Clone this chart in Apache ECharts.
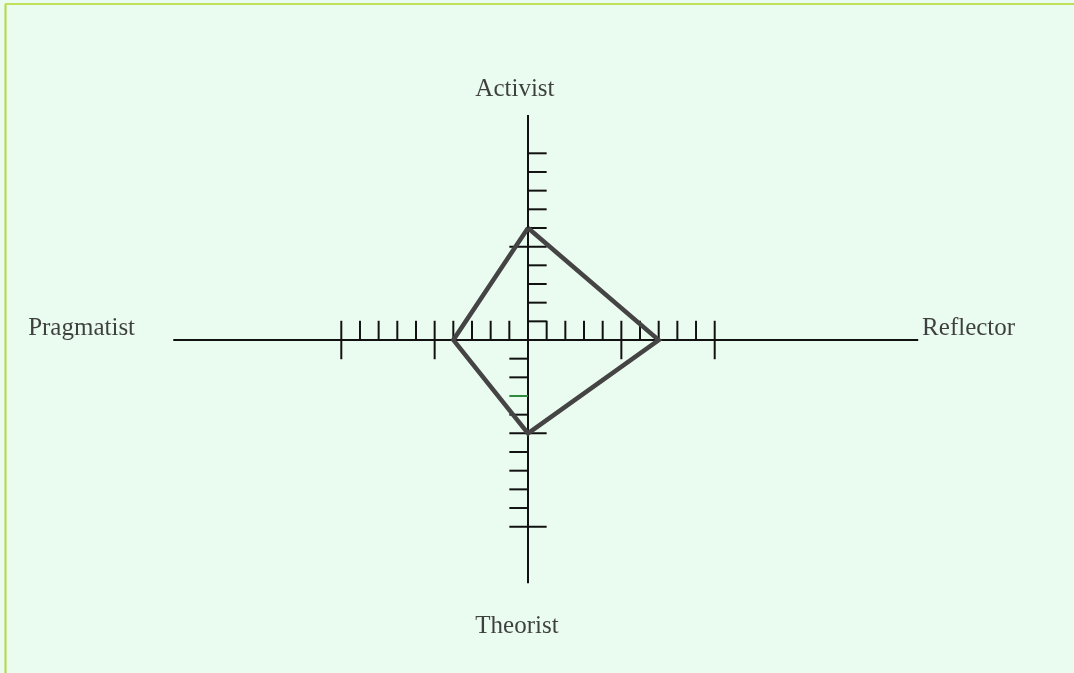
<!DOCTYPE html>
<html>
<head>
<meta charset="utf-8">
<script src="https://cdn.jsdelivr.net/npm/echarts@6/dist/echarts.min.js"></script>
<style>
  html, body { margin: 0; padding: 0; background: #eafbef; }
  #chart { width: 1074px; height: 673px; }
</style>
</head>
<body>
<div id="chart"></div>
<script>
// styles, four learning styles, one score each
const categories = ["Activist", "Reflector", "Theorist", "Pragmatist"];
const scores = [6, 7, 5, 4];

// tick marks on the cross
const hTicks = [-10, -9, -8, -7, -6, -5, -4, -3, -2, -1, 1, 2, 3, 4, 5, 6, 7, 8, 9, 10];
const hLongTicks = [-10, -5, 5, 10];
const vTicksUp = [1, 2, 3, 4, 5, 6, 7, 8, 9, 10];
const vLongUp = [5];
const vTicksDown = [-1, -2, -3, -4, -5, -6, -7, -8, -9, -10];
const vLongDown = [-5, -10];
const greenTicks = [-3]; // faint green mark on the scan

// axis ends (in score units)
const hAxisEnds = [-19, 20.9];
const vAxisEnds = [12.05, -13.03];

// layout
const CX = 528, CY = 340, UNIT = 18.67;
const W = 1074, H = 673;

const chart = echarts.init(document.getElementById("chart"));

// segments for the ticks: [x1, y1, x2, y2, isGreen]
let tickSegs = [];
for (let v of hTicks) {
  let long = hLongTicks.indexOf(v) >= 0;
  tickSegs.push([v, long ? -1.03 : 0, v, 1.03, 0]);
}
for (let v of vTicksUp) {
  let long = vLongUp.indexOf(v) >= 0;
  tickSegs.push([long ? -1 : 0, v, 1, v, 0]);
}
for (let v of vTicksDown) {
  let long = vLongDown.indexOf(v) >= 0;
  let green = greenTicks.indexOf(v) >= 0 ? 1 : 0;
  tickSegs.push([-1, v, long ? 1 : 0, v, green]);
}

// kite points: Activist up, Reflector right, Theorist down, Pragmatist left
const dirs = [[0, 1], [1, 0], [0, -1], [-1, 0]];
let kite = [];
for (let i = 0; i < categories.length; i++) {
  kite.push([dirs[i][0] * scores[i], dirs[i][1] * scores[i]]);
}
kite.push(kite[0]);

// label positions (centre of each word, in score units)
const labelPos = [[-0.7, 13.44], [23.6, 0.62], [-0.59, -15.35], [-23.91, 0.64]];
let labels = categories.map((c, i) => ({ name: c, value: labelPos[i] }));

let option = {
  backgroundColor: "#eafbef",
  animation: false,
  grid: { left: 0, right: 0, top: 0, bottom: 0 },
  xAxis: { type: "value", min: -CX / UNIT, max: (W - CX) / UNIT, show: false },
  yAxis: { type: "value", min: -(H - CY) / UNIT, max: CY / UNIT, show: false },
  graphic: [
    { type: "line", shape: { x1: 5.5, y1: 4, x2: 5.5, y2: H }, style: { stroke: "#b3da3c", lineWidth: 2 } },
    { type: "line", shape: { x1: 5, y1: 4, x2: W, y2: 4 }, style: { stroke: "#c0e05a", lineWidth: 2 } }
  ],
  series: [
    {
      type: "line",
      data: [[hAxisEnds[0], 0], [hAxisEnds[1], 0]],
      symbol: "none",
      lineStyle: { color: "#111", width: 2 },
      z: 1
    },
    {
      type: "line",
      data: [[0, vAxisEnds[0]], [0, vAxisEnds[1]]],
      symbol: "none",
      lineStyle: { color: "#111", width: 2 },
      z: 1
    },
    {
      type: "custom",
      data: tickSegs,
      z: 2,
      renderItem: function (params, api) {
        let p1 = api.coord([api.value(0), api.value(1)]);
        let p2 = api.coord([api.value(2), api.value(3)]);
        return {
          type: "line",
          shape: { x1: p1[0], y1: p1[1], x2: p2[0], y2: p2[1] },
          style: { stroke: api.value(4) ? "#2f8a3c" : "#111", lineWidth: 2 }
        };
      }
    },
    {
      type: "line",
      data: kite,
      symbol: "none",
      z: 5,
      lineStyle: { color: "#444", width: 4.5, join: "miter" }
    },
    {
      type: "scatter",
      data: labels,
      symbolSize: 0,
      silent: true,
      label: {
        show: true,
        position: "inside",
        formatter: "{b}",
        fontFamily: "Liberation Serif",
        fontSize: 25,
        color: "#111",
        textBorderWidth: 0
      }
    }
  ]
};
chart.setOption(option);
</script>
</body>
</html>
